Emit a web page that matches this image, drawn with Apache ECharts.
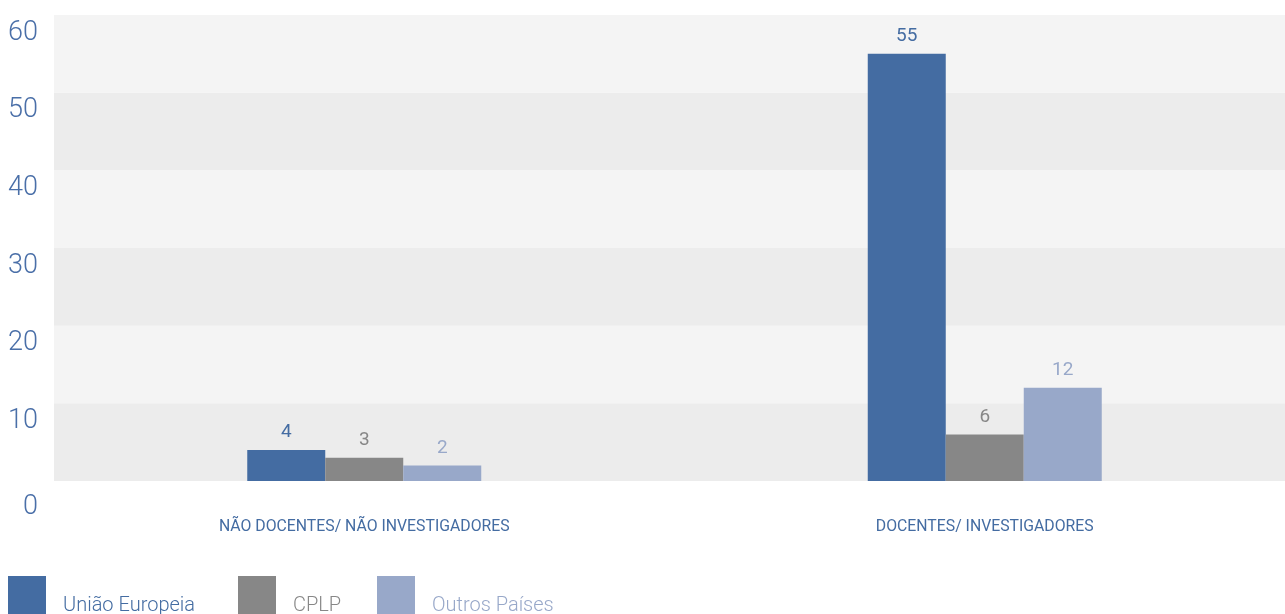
<!DOCTYPE html>
<html>
<head>
<meta charset="utf-8">
<script src="https://cdn.jsdelivr.net/npm/echarts@6/dist/echarts.min.js"></script>
<style>
  html, body { margin: 0; padding: 0; background: #ffffff; overflow: hidden; }
  /* the plot area runs a little past the right edge of the page */
  #chart { width: 1296px; height: 614px; }
</style>
</head>
<body>
<div id="chart"></div>
<script>
// Staff by origin, per category
const categories = ['NÃO DOCENTES/ NÃO INVESTIGADORES', 'DOCENTES/ INVESTIGADORES'];
const seriesNames = ['União Europeia', 'CPLP', 'Outros Países'];
const uniaoEuropeia = [4, 55];
const cplp = [3, 6];
const outrosPaises = [2, 12];
const yTicks = [0, 10, 20, 30, 40, 50, 60];

const colors = ['#446ca2', '#878787', '#98a8c9'];
const values = [uniaoEuropeia, cplp, outrosPaises];
const FONT = 'Roboto, "Open Sans", "Noto Sans", sans-serif';

const chart = echarts.init(document.getElementById('chart'), null, { renderer: 'canvas' });

const legendLeft = [8, 238, 377];

chart.setOption({
  animation: false,
  grid: { left: 54, right: 1, top: 15, height: 466, containLabel: false },
  xAxis: {
    type: 'category',
    data: categories,
    axisLine: { show: false },
    axisTick: { show: false },
    axisLabel: { color: '#446ca2', fontFamily: FONT, fontSize: 15.8, margin: 38 }
  },
  yAxis: {
    type: 'value',
    min: yTicks[0],
    max: yTicks[yTicks.length - 1],
    interval: 10,
    axisLine: { show: false },
    axisTick: { show: false },
    splitLine: { show: false },
    splitArea: { show: true, areaStyle: { color: ['#ececec', '#f4f4f4'] } },
    axisLabel: {
      margin: 16,
      color: '#4a6fa8',
      fontFamily: FONT,
      fontWeight: 300,
      fontSize: 27,
      padding: [36, 0, 0, 0],
      formatter: v => (v === 0 ? '{z|0}' : String(v)),
      rich: { z: { fontSize: 27, fontWeight: 300, color: '#4a6fa8', fontFamily: FONT, padding: [16, 0, 0, 0] } }
    }
  },
  // one legend per series so each entry sits at its own spot
  legend: seriesNames.map((name, i) => ({
    left: legendLeft[i],
    top: 576,
    padding: 0,
    orient: 'horizontal',
    icon: 'rect',
    itemWidth: 38,
    itemHeight: 38,
    selectedMode: false,
    data: [{ name: name, textStyle: { color: colors[i] } }],
    formatter: '{t|{name}}',
    textStyle: {
      fontFamily: FONT, fontWeight: 300, fontSize: 20, padding: [0, 0, 0, 12],
      rich: { t: { fontFamily: FONT, fontWeight: 300, fontSize: 20, padding: [22, 0, 0, 0] } }
    }
  })),
  series: seriesNames.map((name, i) => ({
    name: name,
    type: 'bar',
    data: values[i],
    barWidth: 78,
    barGap: '0%',
    itemStyle: { color: colors[i] },
    label: {
      show: true,
      position: 'top',
      distance: 8,
      color: colors[i],
      fontFamily: FONT,
      fontSize: 19
    }
  }))
});
</script>
</body>
</html>
